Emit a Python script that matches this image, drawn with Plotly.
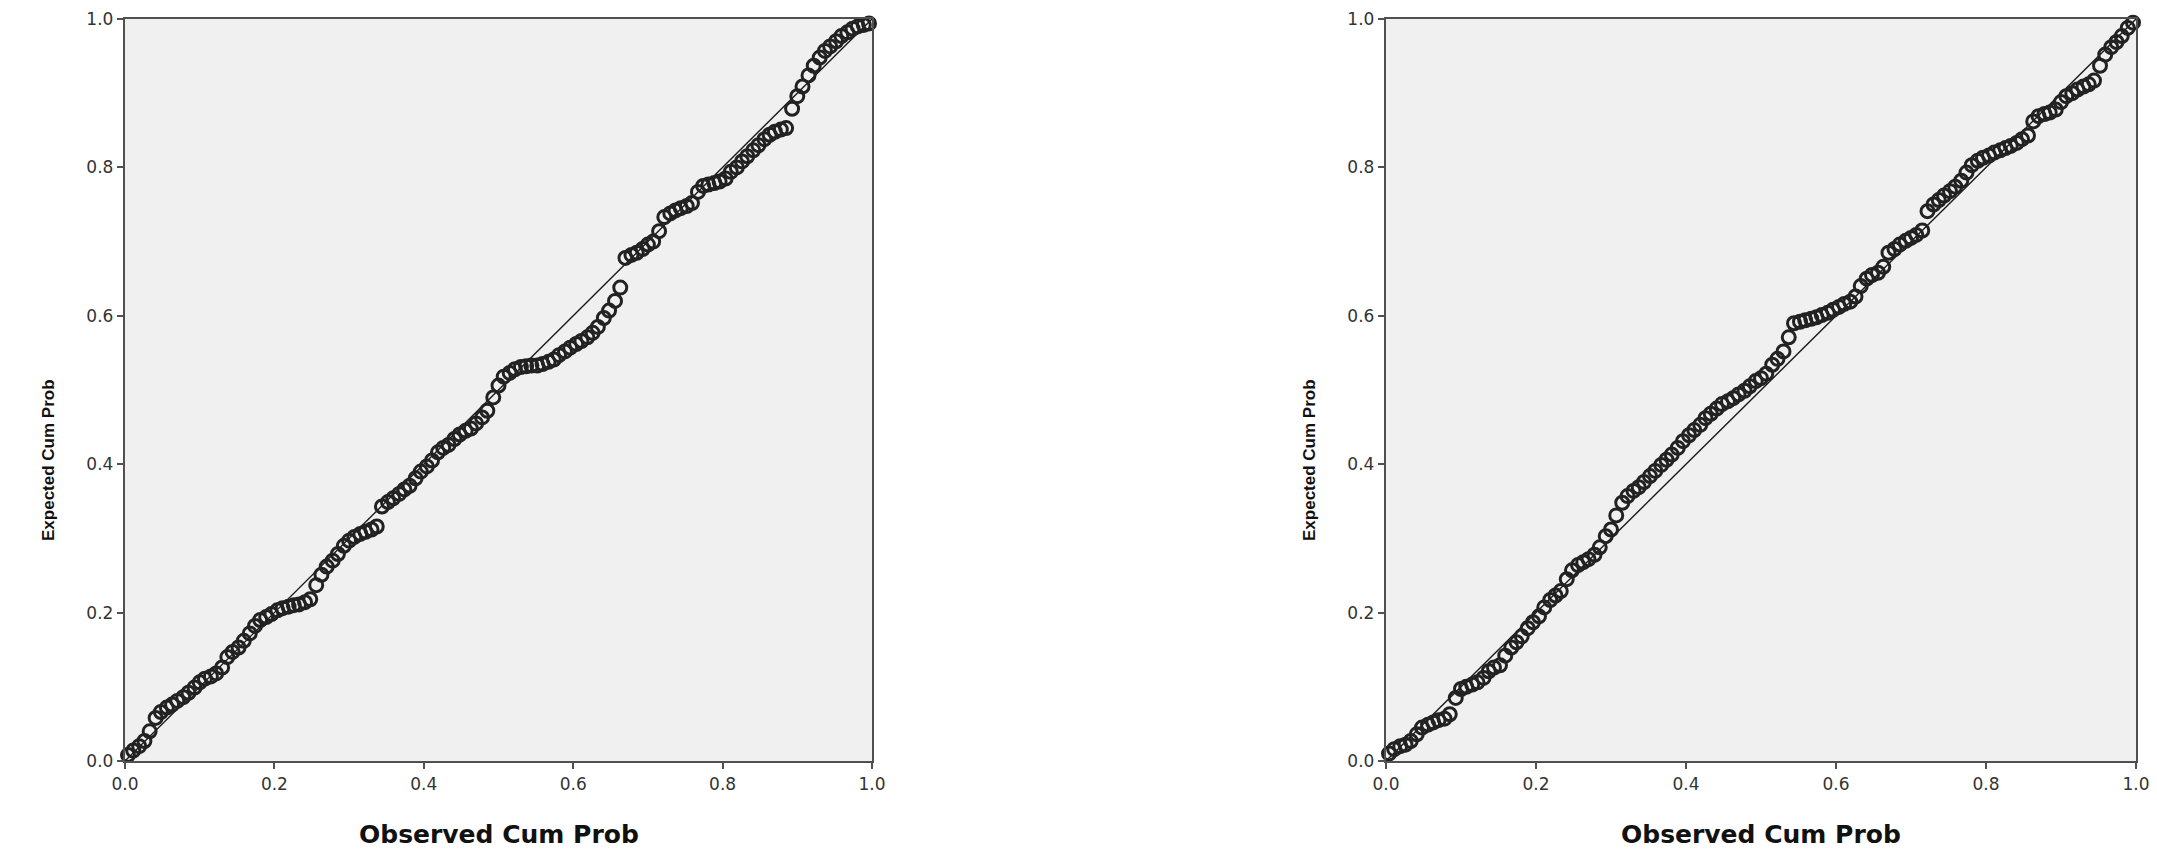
import plotly.graph_objects as go

# observed cumulative probability (x) shared grid
obs_left = [
    0.004, 0.011, 0.019, 0.026, 0.033, 0.041, 0.048, 0.056, 0.063, 0.070,
    0.078, 0.085, 0.093, 0.100, 0.107, 0.115, 0.122, 0.130, 0.137, 0.144,
    0.152, 0.159, 0.167, 0.174, 0.181, 0.189, 0.196, 0.204, 0.211, 0.219,
    0.226, 0.233, 0.241, 0.248, 0.256, 0.263, 0.270, 0.278, 0.285, 0.293,
    0.300, 0.307, 0.315, 0.322, 0.330, 0.337, 0.344, 0.352, 0.359, 0.367,
    0.374, 0.381, 0.389, 0.396, 0.404, 0.411, 0.419, 0.426, 0.433, 0.441,
    0.448, 0.456, 0.463, 0.470, 0.478, 0.485, 0.493, 0.500, 0.507, 0.515,
    0.522, 0.530, 0.537, 0.544, 0.552, 0.559, 0.567, 0.574, 0.581, 0.589,
    0.596, 0.604, 0.611, 0.619, 0.626, 0.633, 0.641, 0.648, 0.656, 0.663,
    0.670, 0.678, 0.685, 0.693, 0.700, 0.707, 0.715, 0.722, 0.730, 0.737,
    0.744, 0.752, 0.759, 0.767, 0.774, 0.781, 0.789, 0.796, 0.804, 0.811,
    0.819, 0.826, 0.833, 0.841, 0.848, 0.856, 0.863, 0.870, 0.878, 0.885,
    0.893, 0.900, 0.907, 0.915, 0.922, 0.930, 0.937, 0.944, 0.952, 0.959,
    0.967, 0.974, 0.981, 0.989, 0.996,
]
exp_left = [
    0.008, 0.014, 0.020, 0.027, 0.040, 0.058, 0.066, 0.072, 0.076, 0.081,
    0.086, 0.092, 0.099, 0.106, 0.111, 0.114, 0.118, 0.126, 0.140, 0.147,
    0.153, 0.162, 0.172, 0.182, 0.190, 0.194, 0.198, 0.203, 0.206, 0.208,
    0.210, 0.211, 0.214, 0.218, 0.237, 0.251, 0.262, 0.270, 0.279, 0.290,
    0.297, 0.302, 0.306, 0.309, 0.312, 0.316, 0.343, 0.349, 0.354, 0.360,
    0.366, 0.371, 0.381, 0.390, 0.397, 0.405, 0.416, 0.422, 0.426, 0.434,
    0.440, 0.445, 0.448, 0.455, 0.463, 0.472, 0.490, 0.506, 0.518, 0.523,
    0.528, 0.531, 0.532, 0.533, 0.533, 0.535, 0.538, 0.541, 0.547, 0.552,
    0.557, 0.562, 0.566, 0.571, 0.577, 0.585, 0.597, 0.607, 0.620, 0.638,
    0.678, 0.682, 0.685, 0.690, 0.696, 0.700, 0.714, 0.733, 0.738, 0.742,
    0.745, 0.748, 0.752, 0.767, 0.775, 0.777, 0.779, 0.781, 0.785, 0.794,
    0.800, 0.808, 0.815, 0.823, 0.830, 0.838, 0.844, 0.848, 0.851, 0.853,
    0.879, 0.896, 0.909, 0.924, 0.937, 0.948, 0.957, 0.963, 0.970, 0.977,
    0.982, 0.987, 0.990, 0.992, 0.994,
]

obs_right = list(obs_left)
exp_right = [
    0.010, 0.016, 0.020, 0.022, 0.027, 0.036, 0.045, 0.049, 0.052, 0.055,
    0.057, 0.063, 0.085, 0.097, 0.100, 0.103, 0.106, 0.112, 0.121, 0.126,
    0.129, 0.142, 0.153, 0.160, 0.168, 0.179, 0.187, 0.195, 0.207, 0.217,
    0.223, 0.229, 0.245, 0.257, 0.264, 0.268, 0.272, 0.278, 0.288, 0.303,
    0.312, 0.331, 0.348, 0.357, 0.364, 0.369, 0.376, 0.384, 0.391, 0.399,
    0.406, 0.413, 0.422, 0.431, 0.439, 0.446, 0.453, 0.462, 0.468, 0.475,
    0.481, 0.485, 0.489, 0.494, 0.499, 0.505, 0.512, 0.516, 0.522, 0.534,
    0.542, 0.552, 0.571, 0.590, 0.592, 0.594, 0.596, 0.598, 0.601, 0.604,
    0.608, 0.612, 0.616, 0.619, 0.626, 0.640, 0.650, 0.655, 0.658, 0.666,
    0.685, 0.690, 0.696, 0.701, 0.705, 0.709, 0.715, 0.741, 0.750, 0.756,
    0.762, 0.768, 0.774, 0.782, 0.793, 0.803, 0.809, 0.813, 0.816, 0.820,
    0.823, 0.826, 0.829, 0.833, 0.838, 0.843, 0.862, 0.869, 0.872, 0.874,
    0.878, 0.888, 0.896, 0.900, 0.905, 0.909, 0.912, 0.917, 0.937, 0.952,
    0.962, 0.969, 0.977, 0.988, 0.995,
]

diag = [0, 1]
tick_vals = [0, 0.2, 0.4, 0.6, 0.8, 1.0]
tick_text = ["0.0", "0.2", "0.4", "0.6", "0.8", "1.0"]

W, H = 2157, 854
AXIS = "#505050"
TICKFONT = dict(family="DejaVu Sans", size=17, color="#333333")

fig = go.Figure()

panels = [
    (obs_left, exp_left, "x", "y"),
    (obs_right, exp_right, "x2", "y2"),
]
for obs, exp, xa, ya in panels:
    fig.add_trace(
        go.Scatter(
            x=diag, y=diag, mode="lines", xaxis=xa, yaxis=ya,
            line=dict(color="#1a1a1a", width=1.4), hoverinfo="skip",
        )
    )
    fig.add_trace(
        go.Scatter(
            x=obs, y=exp, mode="markers", xaxis=xa, yaxis=ya,
            marker=dict(symbol="circle-open", size=13, color="#222222",
                        line=dict(width=3, color="#222222")),
            cliponaxis=False,
        )
    )

# pixel boxes of the two plot frames
left_box = (117, 864)
right_box = (1378, 2128)
top_px, bottom_px = 11, 753
ydom = [(H - bottom_px) / H, (H - top_px) / H]


def axis_common():
    return dict(
        range=[0, 1], tickvals=tick_vals, ticktext=tick_text,
        ticks="outside", ticklen=6, tickwidth=1.6, tickcolor=AXIS,
        showline=True, linecolor=AXIS, linewidth=2.4, mirror=True,
        showgrid=False, zeroline=False, tickfont=TICKFONT, automargin=False,
    )


fig.update_layout(
    width=W, height=H,
    margin=dict(l=0, r=0, t=0, b=0),
    paper_bgcolor="white",
    plot_bgcolor="#f0f0f0",
    showlegend=False,
    xaxis=dict(domain=[left_box[0] / W, left_box[1] / W], anchor="y", **axis_common()),
    yaxis=dict(domain=ydom, anchor="x", **axis_common()),
    xaxis2=dict(domain=[right_box[0] / W, right_box[1] / W], anchor="y2", **axis_common()),
    yaxis2=dict(domain=ydom, anchor="x2", **axis_common()),
)

title_font_x = dict(family="DejaVu Sans", size=25, color="#111111")
title_font_y = dict(family="Liberation Sans", size=17, color="#111111")
for box in (left_box, right_box):
    fig.add_annotation(
        text="<b>Observed Cum Prob</b>", xref="paper", yref="paper",
        x=(box[0] + box[1]) / 2 / W, y=(H - 826) / H,
        showarrow=False, font=title_font_x, xanchor="center", yanchor="middle",
    )
    fig.add_annotation(
        text="<b>Expected Cum Prob</b>", xref="paper", yref="paper",
        x=(box[0] - 76) / W, y=(H - 452) / H, textangle=-90,
        showarrow=False, font=title_font_y, xanchor="center", yanchor="middle",
    )

fig.write_html("out.html")
